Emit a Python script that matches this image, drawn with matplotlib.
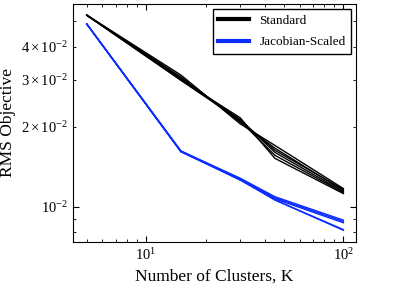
import numpy as np
import matplotlib
matplotlib.use('Agg')
import matplotlib.pyplot as plt
from matplotlib.lines import Line2D

plt.rcParams['font.family'] = 'Liberation Serif'
plt.rcParams['mathtext.fontset'] = 'stix'

K = [5, 15, 30, 45, 100]

# RMS objective, one list per run
STANDARD = [
    [5.26e-2, 3.13e-2, 2.05e-2, 1.70e-2, 1.17e-2],
    [5.26e-2, 3.08e-2, 2.08e-2, 1.66e-2, 1.15e-2],
    [5.26e-2, 3.02e-2, 2.13e-2, 1.60e-2, 1.14e-2],
    [5.25e-2, 3.00e-2, 2.16e-2, 1.52e-2, 1.12e-2],
    [5.26e-2, 3.05e-2, 2.10e-2, 1.56e-2, 1.13e-2],
    [5.26e-2, 2.99e-2, 2.11e-2, 1.63e-2, 1.16e-2],
]
JACOBIAN = [
    [4.87e-2, 1.62e-2, 1.28e-2, 1.09e-2, 8.9e-3],
    [4.87e-2, 1.61e-2, 1.27e-2, 1.08e-2, 8.8e-3],
    [4.87e-2, 1.62e-2, 1.26e-2, 1.07e-2, 8.7e-3],
    [4.87e-2, 1.62e-2, 1.27e-2, 1.06e-2, 8.2e-3],
    [4.87e-2, 1.61e-2, 1.26e-2, 1.06e-2, 8.15e-3],
]

fig = plt.figure(figsize=(4.15, 2.89), dpi=100)
ax = fig.add_axes([0.176, 0.163, 0.682, 0.823])

for run in STANDARD:
    ax.plot(K, run, color='black', lw=1)
for run in JACOBIAN:
    ax.plot(K, run, color='#0b2bff', lw=1)

ax.set_xscale('log')
ax.set_yscale('log')
ax.set_xlim(4.26, 116)
ax.set_ylim(7.37e-3, 5.79e-2)

ax.tick_params(which='both', direction='in', top=True, right=True, labelsize=10.5)
ax.tick_params(which='major', length=4)
ax.tick_params(which='minor', length=2)

ax.set_xlabel('Number of Clusters, K', fontsize=12.5)
ax.set_ylabel('RMS Objective', fontsize=12.5)

handles = [Line2D([], [], color='black', lw=3),
           Line2D([], [], color='#0b2bff', lw=3)]
leg = ax.legend(handles, ['Standard', 'Jacobian-Scaled'], loc='upper right',
                fontsize=9.5, fancybox=False, framealpha=1, edgecolor='black',
                labelspacing=0.7, handlelength=2.3, borderaxespad=0.4)
leg.get_frame().set_linewidth(1)

fig.savefig('out.png', dpi=100)
